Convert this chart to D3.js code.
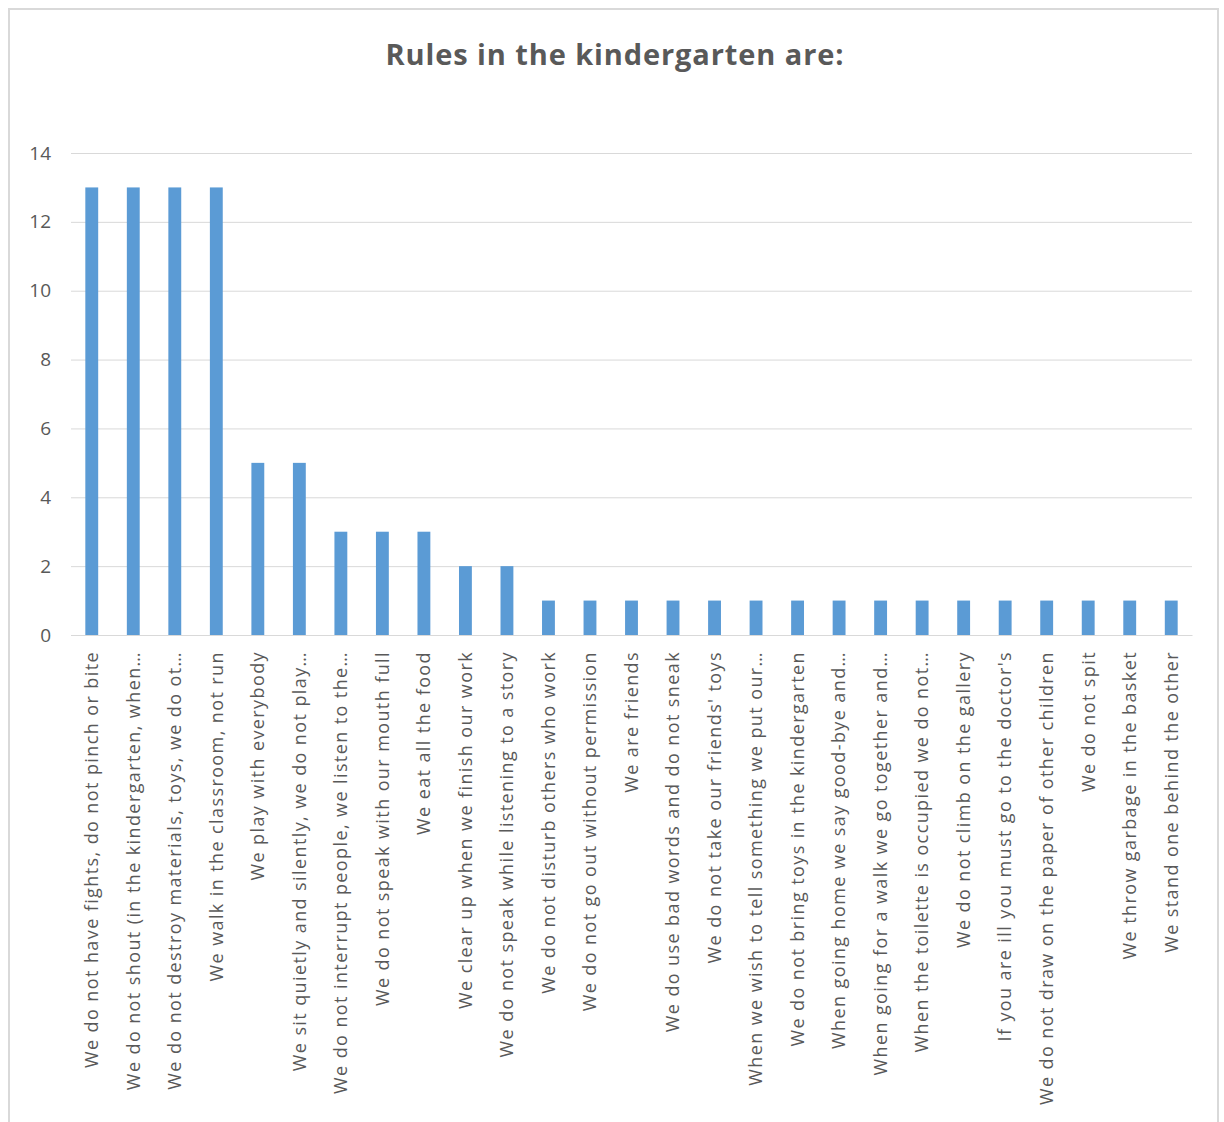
<!DOCTYPE html>
<html><head><meta charset="utf-8">
<script src="https://cdn.jsdelivr.net/npm/d3@7"></script>
<style>
body{margin:0;background:#fff;}
svg text{font-family:"Open Sans","Noto Sans",sans-serif;fill:#595959;}
</style></head>
<body><svg id="c" width="1224" height="1122"></svg>
<script>
const title = "Rules in the kindergarten are:";
const categories = [
 "We do not have fights, do not pinch or bite",
 "We do not shout (in the kindergarten, when…",
 "We do not destroy materials, toys, we do ot…",
 "We walk in the classroom, not run",
 "We play with everybody",
 "We sit quietly and silently, we do not play…",
 "We do not interrupt people, we listen to the…",
 "We do not speak with our mouth full",
 "We eat all the food",
 "We clear up when we finish our work",
 "We do not speak while listening to a story",
 "We do not disturb others who work",
 "We do not go out without permission",
 "We are friends",
 "We do use bad words and do not sneak",
 "We do not take our friends' toys",
 "When we wish to tell something we put our…",
 "We do not bring toys in the kindergarten",
 "When going home we say good-bye and…",
 "When going for a walk we go together and…",
 "When the toilette is occupied we do not…",
 "We do not climb on the gallery",
 "If you are ill you must go to the doctor's",
 "We do not draw on the paper of other children",
 "We do not spit",
 "We throw garbage in the basket",
 "We stand one behind the other"
];
const values = [13,13,13,13,5,5,3,3,3,2,2,1,1,1,1,1,1,1,1,1,1,1,1,1,1,1,1];
const yTicks = [0,2,4,6,8,10,12,14];

const svg = d3.select("#c");
svg.append("rect").attr("x",9).attr("y",9).attr("width",1209).attr("height",1130)
  .attr("fill","#fff").attr("stroke","#d9d9d9").attr("stroke-width",2);

svg.append("text").attr("x",615).attr("y",65).attr("text-anchor","middle")
  .style("font-size","29px").style("font-weight","bold").style("letter-spacing","0.9px").text(title);

const pL=71, pR=1192, pT=153, pB=635;
const x = d3.scaleBand().domain(categories).range([pL,pR]).paddingInner(0.69).paddingOuter(0.345);
const y = d3.scaleLinear().domain([0,14]).range([pB,pT]);

const gy = svg.append("g").attr("transform",`translate(${pL},0)`)
  .call(d3.axisLeft(y).tickValues(yTicks).tickSize(-(pR-pL)).tickFormat(d3.format("d")).tickPadding(20));
gy.select(".domain").remove();
gy.selectAll(".tick line").attr("stroke","#d9d9d9").attr("stroke-width",1);
gy.selectAll(".tick text").style("font-size","19px").style("fill","#595959");

svg.append("g").selectAll("rect").data(values).join("rect")
  .attr("x",(d,i)=>x(categories[i])).attr("width",x.bandwidth())
  .attr("y",d=>y(d)).attr("height",d=>y(0)-y(d)).attr("fill","#5b9bd5");

const gx = svg.append("g").attr("transform",`translate(0,${pB})`)
  .call(d3.axisBottom(x).tickSize(0).tickPadding(0));
gx.select(".domain").attr("stroke","#d9d9d9").attr("stroke-width",1);
gx.selectAll(".tick text")
  .style("font-size","18px").style("letter-spacing","1.4px").style("fill","#595959")
  .attr("text-anchor","end").attr("dy","0.35em")
  .attr("transform","translate(0,16) rotate(-90)").attr("x",0).attr("y",0);
</script></body></html>
